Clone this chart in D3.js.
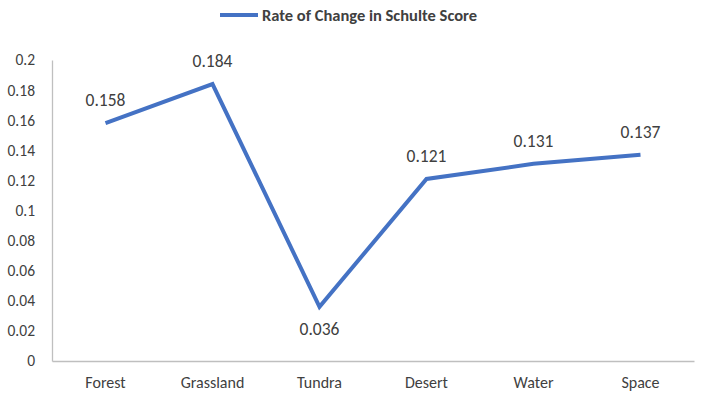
<!DOCTYPE html>
<html lang="en">
<head>
  <meta charset="utf-8">
  <title>Rate of Change in Schulte Score</title>
  <script src="https://d3js.org/d3.v7.min.js"></script>
  <style>
    body { margin: 0; background: #fff; }
    text { font-family: Carlito, Lato, "Open Sans", sans-serif; fill: #404040; }
  </style>
</head>
<body>
<script>
// data
var categories = ["Forest", "Grassland", "Tundra", "Desert", "Water", "Space"];
var values = [0.158, 0.184, 0.036, 0.121, 0.131, 0.137];
var yTicks = [0, 0.02, 0.04, 0.06, 0.08, 0.1, 0.12, 0.14, 0.16, 0.18, 0.2];
var seriesName = "Rate of Change in Schulte Score";

var width = 706, height = 397;
var plotLeft = 52, plotRight = 694, plotTop = 60, plotBottom = 361;
var blue = "#4472c4";

var svg = d3.select("body").append("svg")
  .attr("width", width)
  .attr("height", height);

var x = d3.scaleBand().domain(categories).range([plotLeft, plotRight]);
var y = d3.scaleLinear().domain([0, 0.2]).range([plotBottom, plotTop]);

// y axis: labels plus a light line
var yAxis = svg.append("g")
  .attr("transform", "translate(" + plotLeft + ",0)")
  .call(d3.axisLeft(y).tickValues(yTicks).tickSize(0).tickPadding(17)
    .tickFormat(function(d) { return String(+d.toFixed(2)); }));
yAxis.select(".domain").attr("stroke", "#bfbfbf").attr("stroke-width", 1.3);
yAxis.selectAll("text").style("font-size", "15.5px").attr("fill", "#404040");

// x axis
var xAxis = svg.append("g")
  .attr("transform", "translate(0," + plotBottom + ")")
  .call(d3.axisBottom(x).tickSize(0).tickPadding(16));
xAxis.select(".domain").attr("stroke", "#bfbfbf").attr("stroke-width", 1.3);
xAxis.selectAll("text").style("font-size", "16px").attr("fill", "#404040");

// the line
var line = d3.line()
  .x(function(d, i) { return x(categories[i]) + x.bandwidth() / 2; })
  .y(function(d) { return y(d); });

svg.append("path")
  .datum(values)
  .attr("fill", "none")
  .attr("stroke", blue)
  .attr("stroke-width", 4)
  .attr("stroke-linejoin", "miter")
  .attr("d", line);

// data labels: above, except the dip which sits below
svg.append("g").selectAll("text")
  .data(values)
  .enter().append("text")
  .attr("x", function(d, i) { return x(categories[i]) + x.bandwidth() / 2; })
  .attr("y", function(d, i) {
    var below = i > 0 && i < values.length - 1 && d < values[i - 1] && d < values[i + 1];
    return below ? y(d) + 28 : y(d) - 17;
  })
  .attr("text-anchor", "middle")
  .style("font-size", "17.5px")
  .text(function(d) { return d; });

// legend
var legend = svg.append("g").attr("transform", "translate(220,15)");
legend.append("line")
  .attr("x1", 0).attr("x2", 38)
  .attr("stroke", blue).attr("stroke-width", 4);
legend.append("text")
  .attr("x", 42).attr("y", 5.5)
  .style("font-size", "16.5px")
  .style("font-weight", "bold")
  .attr("fill", "#595959")
  .text(seriesName);
</script>
</body>
</html>
